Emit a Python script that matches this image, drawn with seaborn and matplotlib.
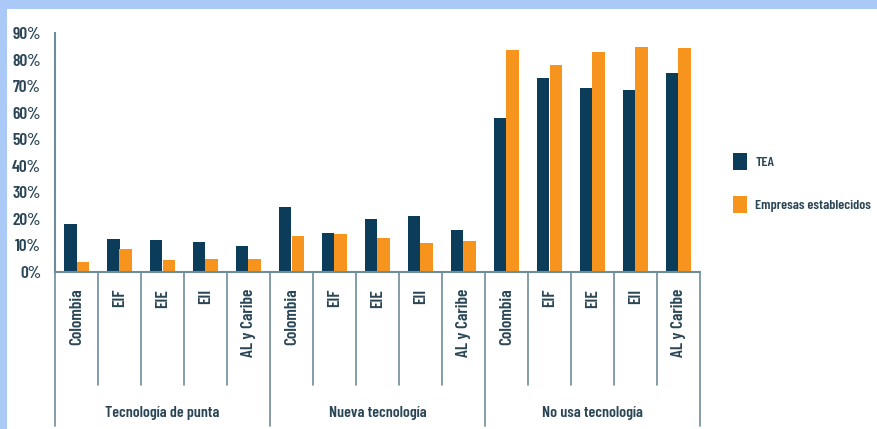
import matplotlib
matplotlib.use("Agg")
import matplotlib.pyplot as plt
import matplotlib.patches as mpatches
import matplotlib.transforms as mtransforms
import seaborn as sns
import pandas as pd

groups = ["Tecnología de punta", "Nueva tecnología", "No usa tecnología"]
regions = ["Colombia", "EIF", "EIE", "EII", "AL y Caribe"]
series = ["TEA", "Empresas establecidos"]
tea = [18.1, 12.6, 12.1, 11.2, 9.8,
       24.4, 14.7, 20.0, 21.0, 15.8,
       58.0, 73.3, 69.2, 68.7, 75.0]
emp = [3.6, 8.6, 4.6, 5.0, 4.9,
       13.5, 14.3, 12.8, 11.0, 11.7,
       83.8, 78.1, 83.1, 84.8, 84.4]
yticks = [0, 10, 20, 30, 40, 50, 60, 70, 80, 90]

keys, xlabels = [], []
for g in groups:
    for r in regions:
        keys.append(g + "|" + r)
        xlabels.append(r)
rows = []
for k, a, b in zip(keys, tea, emp):
    rows.append({"cat": k, "serie": series[0], "val": a / 100})
    rows.append({"cat": k, "serie": series[1], "val": b / 100})
df = pd.DataFrame(rows)

sns.set_style("white")
plt.rcParams["font.family"] = ["Barlow Condensed", "Roboto Condensed", "DejaVu Sans"]
plt.rcParams["font.weight"] = "semibold"
txt = "#2a4656"
axc = "#6f8c99"
colors = ["#0b3d5b", "#f7941d"]

fig = plt.figure(figsize=(8.78, 4.29), dpi=100)
fig.patch.set_facecolor("#abc9f7")
fig.add_artist(mpatches.Rectangle((7 / 878, 0), 1, 1 - 9 / 429, transform=fig.transFigure,
                                  facecolor="white", edgecolor="none", zorder=0))
ax = fig.add_axes([55 / 878, 1 - 272 / 429, 645 / 878, (272 - 33.3) / 429])
ax.set_facecolor("none")
sns.barplot(data=df, x="cat", y="val", hue="serie", order=keys, hue_order=series,
            palette=colors, saturation=1, width=0.6, linewidth=0, ax=ax, legend=False)

ax.set_ylim(0, 0.9)
ax.set_xlim(-0.5, len(keys) - 0.5)
ax.set_yticks([v / 100 for v in yticks])
ax.set_yticklabels([f"{v}%" for v in yticks], fontsize=12.5, color=txt)
ax.set_xticks(range(len(keys)))
ax.set_xticklabels(xlabels, rotation=90, fontsize=12.5, color=txt, va="top")
ax.tick_params(axis="x", length=0, pad=12)
ax.tick_params(axis="y", length=4, width=1.2, color=axc, direction="out", pad=6)
ax.set_xlabel("")
ax.set_ylabel("")
for s in ["top", "right"]:
    ax.spines[s].set_visible(False)
for s in ["left", "bottom"]:
    ax.spines[s].set_color(axc)
    ax.spines[s].set_linewidth(1.5)

trans = mtransforms.blended_transform_factory(ax.transData, ax.transAxes)
h = (272 - 33.3)
for i in range(len(keys) + 1):
    x = i - 0.5
    major = (i % len(regions) == 0)
    y1 = -(426 - 272) / h if major else -(385 - 272) / h
    ax.plot([x, x], [0, y1], transform=trans, color=axc, lw=1.2, clip_on=False)
for gi, g in enumerate(groups):
    ax.text(gi * len(regions) + 2, -(413 - 272) / h, g, transform=trans,
            ha="center", va="center", fontsize=11.5, color=txt)

handles = [mpatches.Patch(facecolor=c, edgecolor="none") for c in colors]
fig.legend(handles, series, loc="center left", bbox_to_anchor=(723 / 878, 1 - 183 / 429),
           frameon=False, fontsize=10.2, labelcolor=txt, handlelength=0.97, handleheight=1.5,
           labelspacing=1.85, handletextpad=0.6, borderpad=0.2)

fig.savefig("out.png", dpi=100)
